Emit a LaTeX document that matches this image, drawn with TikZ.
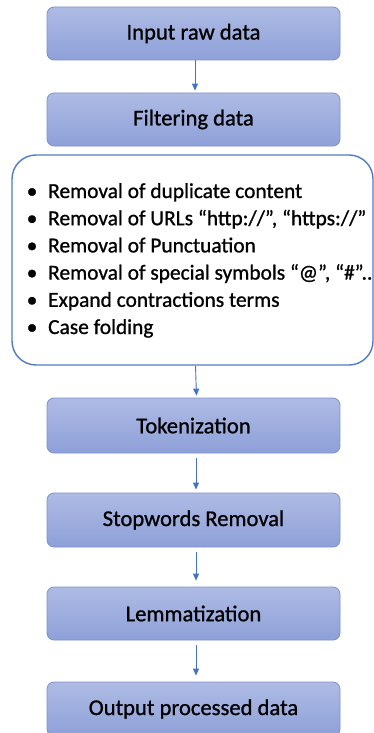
\documentclass[tikz,border=0pt]{standalone}
\usepackage{fontspec}
\setmainfont{Carlito}[FakeBold=0.9]
\usetikzlibrary{arrows.meta}
\definecolor{boxtop}{RGB}{174,187,228}
\definecolor{boxbot}{RGB}{141,160,216}
\definecolor{boxline}{RGB}{128,146,204}
\definecolor{arrowc}{RGB}{68,114,196}
\definecolor{roundline}{RGB}{80,124,196}
\tikzset{
  procbox/.style={draw=boxline, line width=0.8pt, rounded corners=7pt,
    top color=boxtop, bottom color=boxbot, minimum width=293pt,
    inner sep=0pt, font=\fontsize{22.6}{26}\selectfont, text=black},
  listbox/.style={draw=roundline, line width=1.4pt, rounded corners=24pt,
    minimum width=361pt, minimum height=210pt, inner sep=0pt},
  itemtext/.style={anchor=base west, inner sep=0pt, font=\fontsize{21.4}{25}\selectfont},
  flow/.style={draw=arrowc, line width=0.9pt, -{Triangle[length=7pt,width=6pt]}},
}
\newcommand{\bul}[1]{\makebox[21.5pt][l]{•}#1}
\begin{document}
\begin{tikzpicture}[x=1pt,y=-1pt]
\useasboundingbox[fill=white] (0,0) rectangle (374,733);
\node[procbox, minimum height=53pt] (inp) at (193.5,33.5) {Input raw data};
\node[procbox, minimum height=53pt] (filt) at (193.5,119.5) {Filtering data};
\node[listbox] (lst) at (192.5,260) {};
\node[itemtext] (i1) at (26.5,198) {\bul{Removal of duplicate content}};
\node[itemtext] (i2) at (26.5,225.2) {\bul{Removal of URLs “http://”, “https://”}};
\node[itemtext] (i3) at (26.5,252.4) {\bul{Removal of Punctuation}};
\node[itemtext] (i4) at (26.5,279.6) {\bul{Removal of special symbols “@”, “\#”..}};
\node[itemtext] (i5) at (26.5,306.8) {\bul{Expand contractions terms}};
\node[itemtext] (i6) at (26.5,334) {\bul{Case folding}};
\node[procbox, minimum height=55pt] (tok) at (193.5,425.5) {Tokenization};
\node[procbox, minimum height=54pt] (stop) at (193.5,520) {Stopwords Removal};
\node[procbox, minimum height=53pt] (lem) at (193.5,613.5) {Lemmatization};
\node[procbox, minimum height=54pt] (out) at (193.5,709) {Output processed data};
\draw[flow, shorten >=2pt] ([xshift=1.5pt]inp.south) -- ([xshift=1.5pt]filt.north);
\draw[flow, shorten >=2pt] ([xshift=3pt]lst.south) -- ([xshift=3pt]tok.north);
\draw[flow, shorten <=5pt, shorten >=3pt] ([xshift=2.5pt]tok.south) -- ([xshift=2.5pt]stop.north);
\draw[flow, shorten <=5pt, shorten >=6pt] ([xshift=2.5pt]stop.south) -- ([xshift=2.5pt]lem.north);
\draw[flow, shorten <=5pt, shorten >=6pt] ([xshift=2.5pt]lem.south) -- ([xshift=2.5pt]out.north);
\end{tikzpicture}
\end{document}
